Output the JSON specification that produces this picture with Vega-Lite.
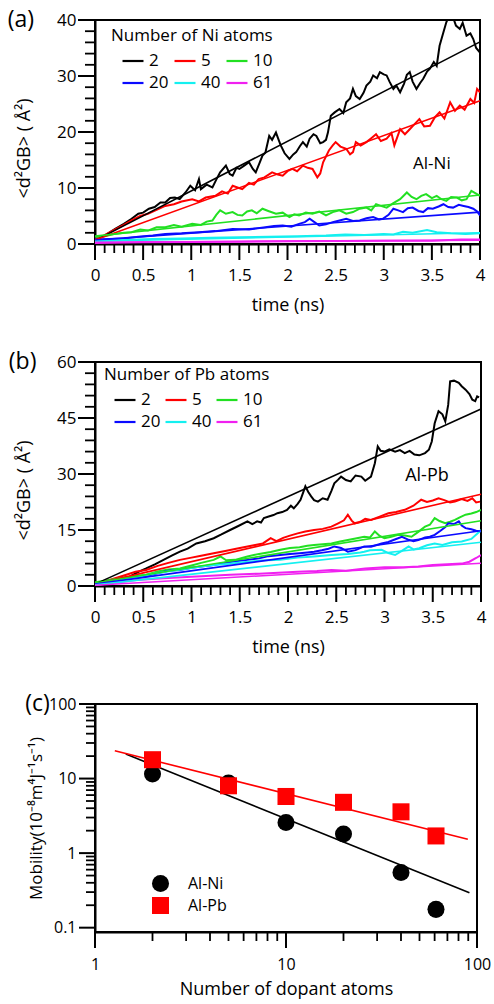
{
  "$schema": "https://vega.github.io/schema/vega-lite/v6.json",
  "padding": {"left": 6, "top": 8, "right": 4, "bottom": 0},
  "spacing": 35,
  "resolve": {
    "scale": {"color": "independent", "shape": "independent", "x": "independent", "y": "independent"},
    "legend": {"color": "independent", "shape": "independent"}
  },
  "config": {
    "font": "Open Sans",
    "view": {"stroke": "#000", "strokeWidth": 2},
    "axis": {
      "grid": false, "ticks": false, "tickSize": 0, "domainColor": "#000", "domainWidth": 2,
      "labelColor": "#000", "titleColor": "#000", "labelFont": "Open Sans", "titleFont": "Open Sans",
      "labelFontSize": 17, "titleFontSize": 18, "titleFontWeight": "normal",
      "labelFlush": false, "labelOverlap": false, "labelBound": false
    },
    "tick": {"opacity": 1, "color": "#000"},
    "legend": {
      "labelFont": "Open Sans", "titleFont": "Open Sans", "labelColor": "#000", "titleColor": "#000",
      "titleFontWeight": "normal", "padding": 0
    }
  },
  "datasets": {
    "xt_lin": [
      {"v":0,"k":"major"},{"v":0.1,"k":"minor"},{"v":0.2,"k":"minor"},{"v":0.3,"k":"minor"},{"v":0.4,"k":"minor"},{"v":0.5,"k":"major"},{"v":0.6,"k":"minor"},{"v":0.7,"k":"minor"},{"v":0.8,"k":"minor"},{"v":0.9,"k":"minor"},
      {"v":1,"k":"major"},{"v":1.1,"k":"minor"},{"v":1.2,"k":"minor"},{"v":1.3,"k":"minor"},{"v":1.4,"k":"minor"},{"v":1.5,"k":"major"},{"v":1.6,"k":"minor"},{"v":1.7,"k":"minor"},{"v":1.8,"k":"minor"},{"v":1.9,"k":"minor"},
      {"v":2,"k":"major"},{"v":2.1,"k":"minor"},{"v":2.2,"k":"minor"},{"v":2.3,"k":"minor"},{"v":2.4,"k":"minor"},{"v":2.5,"k":"major"},{"v":2.6,"k":"minor"},{"v":2.7,"k":"minor"},{"v":2.8,"k":"minor"},{"v":2.9,"k":"minor"},
      {"v":3,"k":"major"},{"v":3.1,"k":"minor"},{"v":3.2,"k":"minor"},{"v":3.3,"k":"minor"},{"v":3.4,"k":"minor"},{"v":3.5,"k":"major"},{"v":3.6,"k":"minor"},{"v":3.7,"k":"minor"},{"v":3.8,"k":"minor"},{"v":3.9,"k":"minor"},
      {"v":4,"k":"major"}
    ],
    "yt_a": [
      {"v":0,"k":"major"},{"v":2,"k":"minor"},{"v":4,"k":"minor"},{"v":6,"k":"minor"},{"v":8,"k":"minor"},{"v":10,"k":"major"},{"v":12,"k":"minor"},{"v":14,"k":"minor"},{"v":16,"k":"minor"},{"v":18,"k":"minor"},
      {"v":20,"k":"major"},{"v":22,"k":"minor"},{"v":24,"k":"minor"},{"v":26,"k":"minor"},{"v":28,"k":"minor"},{"v":30,"k":"major"},{"v":32,"k":"minor"},{"v":34,"k":"minor"},{"v":36,"k":"minor"},{"v":38,"k":"minor"},{"v":40,"k":"major"}
    ],
    "yt_b": [
      {"v":0,"k":"major"},{"v":3,"k":"minor"},{"v":6,"k":"minor"},{"v":9,"k":"minor"},{"v":12,"k":"minor"},{"v":15,"k":"major"},{"v":18,"k":"minor"},{"v":21,"k":"minor"},{"v":24,"k":"minor"},{"v":27,"k":"minor"},
      {"v":30,"k":"major"},{"v":33,"k":"minor"},{"v":36,"k":"minor"},{"v":39,"k":"minor"},{"v":42,"k":"minor"},{"v":45,"k":"major"},{"v":48,"k":"minor"},{"v":51,"k":"minor"},{"v":54,"k":"minor"},{"v":57,"k":"minor"},{"v":60,"k":"major"}
    ],
    "xt_log": [
      {"v":1,"k":"major"},{"v":2,"k":"minor"},{"v":3,"k":"minor"},{"v":4,"k":"minor"},{"v":5,"k":"minor"},{"v":6,"k":"minor"},{"v":7,"k":"minor"},{"v":8,"k":"minor"},{"v":9,"k":"minor"},
      {"v":10,"k":"major"},{"v":20,"k":"minor"},{"v":30,"k":"minor"},{"v":40,"k":"minor"},{"v":50,"k":"minor"},{"v":60,"k":"minor"},{"v":70,"k":"minor"},{"v":80,"k":"minor"},{"v":90,"k":"minor"},{"v":100,"k":"major"}
    ],
    "yt_log": [
      {"v":0.1,"k":"major"},{"v":0.2,"k":"minor"},{"v":0.3,"k":"minor"},{"v":0.4,"k":"minor"},{"v":0.5,"k":"minor"},{"v":0.6,"k":"minor"},{"v":0.7,"k":"minor"},{"v":0.8,"k":"minor"},{"v":0.9,"k":"minor"},
      {"v":1,"k":"major"},{"v":2,"k":"minor"},{"v":3,"k":"minor"},{"v":4,"k":"minor"},{"v":5,"k":"minor"},{"v":6,"k":"minor"},{"v":7,"k":"minor"},{"v":8,"k":"minor"},{"v":9,"k":"minor"},
      {"v":10,"k":"major"},{"v":20,"k":"minor"},{"v":30,"k":"minor"},{"v":40,"k":"minor"},{"v":50,"k":"minor"},{"v":60,"k":"minor"},{"v":70,"k":"minor"},{"v":80,"k":"minor"},{"v":90,"k":"minor"},{"v":100,"k":"major"}
    ],
    "a_sim": [
      {"n":"2","t":0,"d":0.8},{"n":"2","t":0.1,"d":1.5},{"n":"2","t":0.21,"d":2.7},{"n":"2","t":0.3,"d":3.6},{"n":"2","t":0.38,"d":4.5},{"n":"2","t":0.45,"d":5.4},{"n":"2","t":0.5,"d":5.6},{"n":"2","t":0.56,"d":6.3},{"n":"2","t":0.62,"d":6.6},{"n":"2","t":0.68,"d":7.4},{"n":"2","t":0.73,"d":7.4},{"n":"2","t":0.78,"d":8.2},{"n":"2","t":0.83,"d":8.3},{"n":"2","t":0.88,"d":8.0},{"n":"2","t":0.94,"d":9.2},{"n":"2","t":0.99,"d":10.4},{"n":"2","t":1.04,"d":9.6},{"n":"2","t":1.08,"d":11.6},{"n":"2","t":1.1,"d":9.8},{"n":"2","t":1.16,"d":10.6},{"n":"2","t":1.22,"d":10.1},{"n":"2","t":1.26,"d":11.5},{"n":"2","t":1.3,"d":12.8},{"n":"2","t":1.36,"d":14.0},{"n":"2","t":1.4,"d":12.5},{"n":"2","t":1.43,"d":12.2},{"n":"2","t":1.47,"d":13.6},{"n":"2","t":1.5,"d":13.4},{"n":"2","t":1.55,"d":14.0},{"n":"2","t":1.6,"d":14.6},{"n":"2","t":1.64,"d":13.4},{"n":"2","t":1.67,"d":12.8},{"n":"2","t":1.71,"d":14.5},{"n":"2","t":1.74,"d":15.8},{"n":"2","t":1.77,"d":16.3},{"n":"2","t":1.81,"d":19.3},{"n":"2","t":1.84,"d":18.6},{"n":"2","t":1.88,"d":19.9},{"n":"2","t":1.91,"d":18.5},{"n":"2","t":1.93,"d":17.6},{"n":"2","t":1.97,"d":16.2},{"n":"2","t":2.02,"d":15.2},{"n":"2","t":2.06,"d":16.0},{"n":"2","t":2.09,"d":16.4},{"n":"2","t":2.13,"d":17.5},{"n":"2","t":2.16,"d":18.2},{"n":"2","t":2.2,"d":17.4},{"n":"2","t":2.23,"d":18.8},{"n":"2","t":2.27,"d":19.6},{"n":"2","t":2.3,"d":19.3},{"n":"2","t":2.34,"d":18.0},{"n":"2","t":2.37,"d":18.2},{"n":"2","t":2.4,"d":18.6},{"n":"2","t":2.42,"d":19.9},{"n":"2","t":2.45,"d":22.9},{"n":"2","t":2.49,"d":23.5},{"n":"2","t":2.54,"d":24.1},{"n":"2","t":2.58,"d":23.4},{"n":"2","t":2.61,"d":25.3},{"n":"2","t":2.65,"d":26.0},{"n":"2","t":2.68,"d":27.7},{"n":"2","t":2.71,"d":26.4},{"n":"2","t":2.75,"d":25.9},{"n":"2","t":2.79,"d":27.0},{"n":"2","t":2.82,"d":28.3},{"n":"2","t":2.86,"d":29.0},{"n":"2","t":2.89,"d":30.1},{"n":"2","t":2.93,"d":29.6},{"n":"2","t":2.96,"d":30.7},{"n":"2","t":3.0,"d":30.3},{"n":"2","t":3.03,"d":30.1},{"n":"2","t":3.06,"d":29.0},{"n":"2","t":3.1,"d":27.7},{"n":"2","t":3.13,"d":28.3},{"n":"2","t":3.17,"d":27.1},{"n":"2","t":3.21,"d":28.6},{"n":"2","t":3.24,"d":30.2},{"n":"2","t":3.27,"d":30.7},{"n":"2","t":3.3,"d":29.0},{"n":"2","t":3.34,"d":27.7},{"n":"2","t":3.38,"d":28.8},{"n":"2","t":3.41,"d":29.5},{"n":"2","t":3.45,"d":30.8},{"n":"2","t":3.48,"d":31.3},{"n":"2","t":3.52,"d":32.5},{"n":"2","t":3.55,"d":31.8},{"n":"2","t":3.58,"d":35.4},{"n":"2","t":3.62,"d":37.8},{"n":"2","t":3.65,"d":39.6},{"n":"2","t":3.68,"d":40.8},{"n":"2","t":3.72,"d":40.5},{"n":"2","t":3.75,"d":39.0},{"n":"2","t":3.79,"d":38.4},{"n":"2","t":3.82,"d":39.5},{"n":"2","t":3.86,"d":37.2},{"n":"2","t":3.9,"d":37.6},{"n":"2","t":3.93,"d":36.6},{"n":"2","t":3.96,"d":35.0},{"n":"2","t":4.0,"d":34.2},
      {"n":"5","t":0,"d":0.8},{"n":"5","t":0.1,"d":1.6},{"n":"5","t":0.2,"d":2.5},{"n":"5","t":0.3,"d":3.4},{"n":"5","t":0.38,"d":4.2},{"n":"5","t":0.47,"d":5.0},{"n":"5","t":0.55,"d":5.4},{"n":"5","t":0.64,"d":6.1},{"n":"5","t":0.73,"d":6.8},{"n":"5","t":0.82,"d":7.1},{"n":"5","t":0.9,"d":7.6},{"n":"5","t":1.01,"d":8.0},{"n":"5","t":1.08,"d":7.6},{"n":"5","t":1.15,"d":8.3},{"n":"5","t":1.25,"d":8.6},{"n":"5","t":1.32,"d":9.4},{"n":"5","t":1.38,"d":9.0},{"n":"5","t":1.43,"d":10.4},{"n":"5","t":1.48,"d":10.1},{"n":"5","t":1.53,"d":9.8},{"n":"5","t":1.6,"d":10.9},{"n":"5","t":1.65,"d":10.6},{"n":"5","t":1.7,"d":11.6},{"n":"5","t":1.76,"d":11.9},{"n":"5","t":1.84,"d":12.8},{"n":"5","t":1.9,"d":12.4},{"n":"5","t":1.95,"d":12.2},{"n":"5","t":2.0,"d":13.0},{"n":"5","t":2.05,"d":13.4},{"n":"5","t":2.1,"d":13.0},{"n":"5","t":2.16,"d":14.0},{"n":"5","t":2.21,"d":13.6},{"n":"5","t":2.26,"d":13.4},{"n":"5","t":2.31,"d":11.9},{"n":"5","t":2.34,"d":12.6},{"n":"5","t":2.37,"d":14.6},{"n":"5","t":2.43,"d":16.7},{"n":"5","t":2.47,"d":17.6},{"n":"5","t":2.5,"d":18.2},{"n":"5","t":2.55,"d":17.4},{"n":"5","t":2.61,"d":17.0},{"n":"5","t":2.65,"d":16.0},{"n":"5","t":2.68,"d":16.4},{"n":"5","t":2.71,"d":18.2},{"n":"5","t":2.76,"d":17.6},{"n":"5","t":2.82,"d":18.2},{"n":"5","t":2.87,"d":18.9},{"n":"5","t":2.92,"d":19.6},{"n":"5","t":2.97,"d":18.4},{"n":"5","t":3.03,"d":18.8},{"n":"5","t":3.08,"d":19.8},{"n":"5","t":3.11,"d":17.6},{"n":"5","t":3.17,"d":20.5},{"n":"5","t":3.22,"d":19.6},{"n":"5","t":3.27,"d":20.5},{"n":"5","t":3.32,"d":21.4},{"n":"5","t":3.37,"d":22.3},{"n":"5","t":3.42,"d":21.0},{"n":"5","t":3.48,"d":21.1},{"n":"5","t":3.53,"d":22.6},{"n":"5","t":3.58,"d":23.5},{"n":"5","t":3.63,"d":22.4},{"n":"5","t":3.69,"d":25.3},{"n":"5","t":3.74,"d":23.8},{"n":"5","t":3.79,"d":24.7},{"n":"5","t":3.84,"d":24.0},{"n":"5","t":3.9,"d":25.9},{"n":"5","t":3.94,"d":25.2},{"n":"5","t":3.97,"d":27.7},{"n":"5","t":4.0,"d":27.1},
      {"n":"10","t":0,"d":1.3},{"n":"10","t":0.1,"d":1.4},{"n":"10","t":0.2,"d":1.8},{"n":"10","t":0.3,"d":2.0},{"n":"10","t":0.38,"d":2.1},{"n":"10","t":0.47,"d":2.6},{"n":"10","t":0.55,"d":2.4},{"n":"10","t":0.64,"d":3.0},{"n":"10","t":0.73,"d":3.0},{"n":"10","t":0.82,"d":3.4},{"n":"10","t":0.9,"d":3.1},{"n":"10","t":1.01,"d":3.6},{"n":"10","t":1.1,"d":3.4},{"n":"10","t":1.16,"d":4.0},{"n":"10","t":1.22,"d":4.2},{"n":"10","t":1.26,"d":5.2},{"n":"10","t":1.3,"d":6.0},{"n":"10","t":1.36,"d":5.4},{"n":"10","t":1.43,"d":5.7},{"n":"10","t":1.48,"d":5.2},{"n":"10","t":1.53,"d":5.1},{"n":"10","t":1.58,"d":5.8},{"n":"10","t":1.63,"d":6.0},{"n":"10","t":1.68,"d":5.5},{"n":"10","t":1.74,"d":6.3},{"n":"10","t":1.8,"d":5.9},{"n":"10","t":1.88,"d":5.4},{"n":"10","t":1.95,"d":5.6},{"n":"10","t":2.02,"d":4.8},{"n":"10","t":2.07,"d":5.3},{"n":"10","t":2.12,"d":5.1},{"n":"10","t":2.19,"d":5.6},{"n":"10","t":2.26,"d":5.4},{"n":"10","t":2.33,"d":5.8},{"n":"10","t":2.4,"d":5.1},{"n":"10","t":2.47,"d":5.7},{"n":"10","t":2.54,"d":6.0},{"n":"10","t":2.61,"d":5.4},{"n":"10","t":2.68,"d":5.7},{"n":"10","t":2.75,"d":6.3},{"n":"10","t":2.82,"d":6.5},{"n":"10","t":2.87,"d":6.0},{"n":"10","t":2.92,"d":7.1},{"n":"10","t":2.97,"d":6.8},{"n":"10","t":3.03,"d":6.5},{"n":"10","t":3.1,"d":7.3},{"n":"10","t":3.17,"d":8.0},{"n":"10","t":3.24,"d":9.2},{"n":"10","t":3.29,"d":8.4},{"n":"10","t":3.34,"d":8.0},{"n":"10","t":3.39,"d":8.6},{"n":"10","t":3.44,"d":8.9},{"n":"10","t":3.5,"d":8.2},{"n":"10","t":3.55,"d":8.6},{"n":"10","t":3.6,"d":8.0},{"n":"10","t":3.65,"d":7.7},{"n":"10","t":3.7,"d":8.4},{"n":"10","t":3.76,"d":8.3},{"n":"10","t":3.81,"d":7.8},{"n":"10","t":3.86,"d":8.0},{"n":"10","t":3.91,"d":9.5},{"n":"10","t":3.96,"d":9.0},{"n":"10","t":4.0,"d":8.6},
      {"n":"20","t":0,"d":0.8},{"n":"20","t":0.15,"d":0.9},{"n":"20","t":0.3,"d":1.0},{"n":"20","t":0.45,"d":1.3},{"n":"20","t":0.6,"d":1.5},{"n":"20","t":0.73,"d":1.8},{"n":"20","t":0.9,"d":1.9},{"n":"20","t":1.08,"d":2.1},{"n":"20","t":1.25,"d":2.3},{"n":"20","t":1.43,"d":2.7},{"n":"20","t":1.6,"d":2.6},{"n":"20","t":1.77,"d":3.0},{"n":"20","t":1.86,"d":3.2},{"n":"20","t":1.95,"d":3.3},{"n":"20","t":2.04,"d":3.1},{"n":"20","t":2.12,"d":3.6},{"n":"20","t":2.18,"d":3.9},{"n":"20","t":2.23,"d":4.5},{"n":"20","t":2.28,"d":3.9},{"n":"20","t":2.33,"d":3.3},{"n":"20","t":2.4,"d":3.5},{"n":"20","t":2.47,"d":3.9},{"n":"20","t":2.54,"d":4.2},{"n":"20","t":2.61,"d":4.5},{"n":"20","t":2.68,"d":4.1},{"n":"20","t":2.75,"d":4.2},{"n":"20","t":2.82,"d":4.6},{"n":"20","t":2.89,"d":4.8},{"n":"20","t":2.95,"d":4.4},{"n":"20","t":2.99,"d":4.5},{"n":"20","t":3.05,"d":5.2},{"n":"20","t":3.1,"d":6.3},{"n":"20","t":3.15,"d":6.0},{"n":"20","t":3.2,"d":5.7},{"n":"20","t":3.25,"d":6.4},{"n":"20","t":3.3,"d":6.5},{"n":"20","t":3.36,"d":5.9},{"n":"20","t":3.41,"d":5.7},{"n":"20","t":3.46,"d":6.4},{"n":"20","t":3.51,"d":6.3},{"n":"20","t":3.57,"d":6.7},{"n":"20","t":3.62,"d":7.1},{"n":"20","t":3.67,"d":6.6},{"n":"20","t":3.72,"d":6.5},{"n":"20","t":3.78,"d":7.0},{"n":"20","t":3.83,"d":6.8},{"n":"20","t":3.88,"d":6.6},{"n":"20","t":3.93,"d":6.3},{"n":"20","t":3.97,"d":5.8},{"n":"20","t":4.0,"d":5.1},
      {"n":"40","t":0,"d":0.5},{"n":"40","t":0.3,"d":0.7},{"n":"40","t":0.6,"d":0.9},{"n":"40","t":0.9,"d":1.0},{"n":"40","t":1.2,"d":1.1},{"n":"40","t":1.5,"d":1.2},{"n":"40","t":1.8,"d":1.3},{"n":"40","t":2.1,"d":1.4},{"n":"40","t":2.4,"d":1.5},{"n":"40","t":2.6,"d":1.7},{"n":"40","t":2.8,"d":1.6},{"n":"40","t":3.0,"d":1.8},{"n":"40","t":3.1,"d":1.7},{"n":"40","t":3.2,"d":2.2},{"n":"40","t":3.3,"d":2.0},{"n":"40","t":3.45,"d":2.5},{"n":"40","t":3.55,"d":2.1},{"n":"40","t":3.7,"d":1.9},{"n":"40","t":3.85,"d":1.8},{"n":"40","t":4.0,"d":1.9},
      {"n":"61","t":0,"d":0.2},{"n":"61","t":0.5,"d":0.3},{"n":"61","t":1.0,"d":0.35},{"n":"61","t":1.5,"d":0.4},{"n":"61","t":2.0,"d":0.5},{"n":"61","t":2.5,"d":0.55},{"n":"61","t":3.0,"d":0.6},{"n":"61","t":3.5,"d":0.6},{"n":"61","t":3.8,"d":0.8},{"n":"61","t":4.0,"d":0.8}
    ],
    "a_fit": [
      {"n":"2","t":0,"d":0.6},{"n":"2","t":4,"d":36.1},
      {"n":"5","t":0,"d":0.7},{"n":"5","t":4,"d":25.6},
      {"n":"10","t":0,"d":1.4},{"n":"10","t":4,"d":8.75},
      {"n":"20","t":0,"d":0.7},{"n":"20","t":4,"d":5.7},
      {"n":"40","t":0,"d":0.5},{"n":"40","t":4,"d":2.0},
      {"n":"61","t":0,"d":0.3},{"n":"61","t":4,"d":0.7}
    ],
    "b_sim": [
      {"n":"2","t":0,"d":0.5},{"n":"2","t":0.1,"d":1.0},{"n":"2","t":0.2,"d":1.6},{"n":"2","t":0.36,"d":2.5},{"n":"2","t":0.45,"d":3.8},{"n":"2","t":0.53,"d":4.7},{"n":"2","t":0.62,"d":5.8},{"n":"2","t":0.71,"d":7.0},{"n":"2","t":0.8,"d":8.2},{"n":"2","t":0.88,"d":9.2},{"n":"2","t":0.96,"d":10.0},{"n":"2","t":1.05,"d":11.4},{"n":"2","t":1.14,"d":12.0},{"n":"2","t":1.23,"d":12.8},{"n":"2","t":1.31,"d":13.8},{"n":"2","t":1.4,"d":15.0},{"n":"2","t":1.48,"d":16.0},{"n":"2","t":1.58,"d":17.3},{"n":"2","t":1.63,"d":16.6},{"n":"2","t":1.68,"d":17.3},{"n":"2","t":1.72,"d":17.0},{"n":"2","t":1.75,"d":18.2},{"n":"2","t":1.8,"d":18.6},{"n":"2","t":1.85,"d":19.0},{"n":"2","t":1.89,"d":19.5},{"n":"2","t":1.94,"d":19.8},{"n":"2","t":1.99,"d":20.4},{"n":"2","t":2.03,"d":21.5},{"n":"2","t":2.06,"d":20.8},{"n":"2","t":2.1,"d":22.0},{"n":"2","t":2.13,"d":23.1},{"n":"2","t":2.18,"d":26.7},{"n":"2","t":2.21,"d":25.2},{"n":"2","t":2.24,"d":24.0},{"n":"2","t":2.27,"d":23.0},{"n":"2","t":2.31,"d":22.6},{"n":"2","t":2.36,"d":23.5},{"n":"2","t":2.41,"d":23.1},{"n":"2","t":2.45,"d":25.5},{"n":"2","t":2.48,"d":27.5},{"n":"2","t":2.52,"d":28.5},{"n":"2","t":2.55,"d":29.3},{"n":"2","t":2.6,"d":28.4},{"n":"2","t":2.65,"d":28.0},{"n":"2","t":2.7,"d":29.6},{"n":"2","t":2.76,"d":29.3},{"n":"2","t":2.8,"d":28.2},{"n":"2","t":2.86,"d":29.3},{"n":"2","t":2.9,"d":32.9},{"n":"2","t":2.93,"d":37.4},{"n":"2","t":2.96,"d":36.2},{"n":"2","t":3.0,"d":36.0},{"n":"2","t":3.05,"d":36.6},{"n":"2","t":3.11,"d":36.0},{"n":"2","t":3.16,"d":36.4},{"n":"2","t":3.21,"d":35.6},{"n":"2","t":3.26,"d":36.2},{"n":"2","t":3.31,"d":35.2},{"n":"2","t":3.36,"d":35.0},{"n":"2","t":3.42,"d":35.6},{"n":"2","t":3.46,"d":36.5},{"n":"2","t":3.49,"d":38.7},{"n":"2","t":3.52,"d":43.6},{"n":"2","t":3.56,"d":46.8},{"n":"2","t":3.6,"d":46.0},{"n":"2","t":3.63,"d":44.1},{"n":"2","t":3.66,"d":48.5},{"n":"2","t":3.68,"d":54.8},{"n":"2","t":3.72,"d":55.0},{"n":"2","t":3.77,"d":54.4},{"n":"2","t":3.8,"d":53.5},{"n":"2","t":3.84,"d":52.6},{"n":"2","t":3.88,"d":51.4},{"n":"2","t":3.91,"d":49.9},{"n":"2","t":3.94,"d":49.5},{"n":"2","t":3.96,"d":50.8},{"n":"2","t":3.98,"d":50.5},
      {"n":"5","t":0,"d":0.5},{"n":"5","t":0.15,"d":1.6},{"n":"5","t":0.3,"d":2.8},{"n":"5","t":0.42,"d":3.8},{"n":"5","t":0.53,"d":4.3},{"n":"5","t":0.65,"d":5.4},{"n":"5","t":0.76,"d":6.2},{"n":"5","t":0.88,"d":7.0},{"n":"5","t":1.0,"d":7.6},{"n":"5","t":1.1,"d":8.1},{"n":"5","t":1.23,"d":8.8},{"n":"5","t":1.35,"d":9.4},{"n":"5","t":1.45,"d":9.9},{"n":"5","t":1.58,"d":10.6},{"n":"5","t":1.66,"d":11.0},{"n":"5","t":1.74,"d":11.4},{"n":"5","t":1.82,"d":12.8},{"n":"5","t":1.88,"d":12.0},{"n":"5","t":1.95,"d":12.9},{"n":"5","t":2.02,"d":13.5},{"n":"5","t":2.1,"d":14.1},{"n":"5","t":2.18,"d":14.6},{"n":"5","t":2.27,"d":15.0},{"n":"5","t":2.36,"d":15.3},{"n":"5","t":2.45,"d":15.9},{"n":"5","t":2.52,"d":16.8},{"n":"5","t":2.58,"d":17.6},{"n":"5","t":2.62,"d":19.1},{"n":"5","t":2.66,"d":17.5},{"n":"5","t":2.69,"d":16.8},{"n":"5","t":2.75,"d":17.2},{"n":"5","t":2.8,"d":18.0},{"n":"5","t":2.86,"d":17.7},{"n":"5","t":2.95,"d":18.6},{"n":"5","t":3.04,"d":19.5},{"n":"5","t":3.12,"d":19.8},{"n":"5","t":3.21,"d":20.4},{"n":"5","t":3.3,"d":21.5},{"n":"5","t":3.38,"d":23.1},{"n":"5","t":3.44,"d":22.5},{"n":"5","t":3.5,"d":22.9},{"n":"5","t":3.56,"d":23.5},{"n":"5","t":3.62,"d":23.0},{"n":"5","t":3.68,"d":22.4},{"n":"5","t":3.73,"d":22.6},{"n":"5","t":3.8,"d":23.3},{"n":"5","t":3.86,"d":22.8},{"n":"5","t":3.91,"d":23.5},{"n":"5","t":3.95,"d":22.4},{"n":"5","t":3.99,"d":22.6},
      {"n":"10","t":0,"d":1.0},{"n":"10","t":0.15,"d":1.6},{"n":"10","t":0.3,"d":2.2},{"n":"10","t":0.42,"d":2.7},{"n":"10","t":0.53,"d":3.0},{"n":"10","t":0.65,"d":3.9},{"n":"10","t":0.76,"d":4.4},{"n":"10","t":0.88,"d":4.7},{"n":"10","t":1.0,"d":5.5},{"n":"10","t":1.1,"d":6.2},{"n":"10","t":1.23,"d":7.0},{"n":"10","t":1.3,"d":7.9},{"n":"10","t":1.36,"d":6.9},{"n":"10","t":1.45,"d":7.0},{"n":"10","t":1.58,"d":7.9},{"n":"10","t":1.7,"d":8.6},{"n":"10","t":1.82,"d":9.1},{"n":"10","t":1.92,"d":9.7},{"n":"10","t":2.02,"d":10.2},{"n":"10","t":2.12,"d":10.4},{"n":"10","t":2.2,"d":10.8},{"n":"10","t":2.27,"d":11.0},{"n":"10","t":2.36,"d":11.2},{"n":"10","t":2.45,"d":11.4},{"n":"10","t":2.54,"d":11.9},{"n":"10","t":2.62,"d":12.3},{"n":"10","t":2.7,"d":12.7},{"n":"10","t":2.79,"d":13.2},{"n":"10","t":2.85,"d":13.0},{"n":"10","t":2.9,"d":14.6},{"n":"10","t":2.95,"d":13.4},{"n":"10","t":3.0,"d":12.8},{"n":"10","t":3.07,"d":13.2},{"n":"10","t":3.14,"d":13.7},{"n":"10","t":3.21,"d":13.5},{"n":"10","t":3.28,"d":13.2},{"n":"10","t":3.35,"d":14.5},{"n":"10","t":3.42,"d":15.9},{"n":"10","t":3.47,"d":16.4},{"n":"10","t":3.52,"d":18.2},{"n":"10","t":3.57,"d":17.4},{"n":"10","t":3.63,"d":16.8},{"n":"10","t":3.68,"d":17.2},{"n":"10","t":3.73,"d":17.7},{"n":"10","t":3.78,"d":18.4},{"n":"10","t":3.84,"d":19.1},{"n":"10","t":3.9,"d":19.4},{"n":"10","t":3.95,"d":19.8},{"n":"10","t":4.0,"d":20.4},
      {"n":"20","t":0,"d":0.5},{"n":"20","t":0.15,"d":1.3},{"n":"20","t":0.3,"d":2.0},{"n":"20","t":0.42,"d":2.4},{"n":"20","t":0.53,"d":2.7},{"n":"20","t":0.65,"d":3.4},{"n":"20","t":0.76,"d":4.1},{"n":"20","t":0.88,"d":4.3},{"n":"20","t":1.0,"d":4.9},{"n":"20","t":1.12,"d":5.3},{"n":"20","t":1.23,"d":5.6},{"n":"20","t":1.35,"d":6.2},{"n":"20","t":1.46,"d":6.6},{"n":"20","t":1.58,"d":7.0},{"n":"20","t":1.7,"d":7.4},{"n":"20","t":1.8,"d":8.0},{"n":"20","t":1.92,"d":8.3},{"n":"20","t":2.02,"d":8.6},{"n":"20","t":2.12,"d":8.8},{"n":"20","t":2.2,"d":9.0},{"n":"20","t":2.27,"d":9.2},{"n":"20","t":2.35,"d":9.6},{"n":"20","t":2.42,"d":10.0},{"n":"20","t":2.48,"d":10.6},{"n":"20","t":2.55,"d":10.2},{"n":"20","t":2.62,"d":9.2},{"n":"20","t":2.7,"d":9.6},{"n":"20","t":2.79,"d":10.6},{"n":"20","t":2.86,"d":10.5},{"n":"20","t":2.92,"d":11.0},{"n":"20","t":2.97,"d":11.4},{"n":"20","t":3.04,"d":11.8},{"n":"20","t":3.1,"d":12.4},{"n":"20","t":3.18,"d":13.2},{"n":"20","t":3.24,"d":12.5},{"n":"20","t":3.3,"d":12.0},{"n":"20","t":3.35,"d":12.3},{"n":"20","t":3.42,"d":13.0},{"n":"20","t":3.47,"d":13.2},{"n":"20","t":3.52,"d":13.7},{"n":"20","t":3.58,"d":14.8},{"n":"20","t":3.63,"d":15.8},{"n":"20","t":3.66,"d":16.8},{"n":"20","t":3.72,"d":16.6},{"n":"20","t":3.77,"d":17.3},{"n":"20","t":3.8,"d":16.2},{"n":"20","t":3.84,"d":15.5},{"n":"20","t":3.9,"d":15.2},{"n":"20","t":3.95,"d":14.8},{"n":"20","t":4.0,"d":14.6},
      {"n":"40","t":0,"d":0.3},{"n":"40","t":0.15,"d":1.1},{"n":"40","t":0.3,"d":1.9},{"n":"40","t":0.45,"d":2.5},{"n":"40","t":0.6,"d":3.3},{"n":"40","t":0.8,"d":4.1},{"n":"40","t":0.95,"d":4.6},{"n":"40","t":1.1,"d":5.2},{"n":"40","t":1.23,"d":5.6},{"n":"40","t":1.37,"d":5.9},{"n":"40","t":1.5,"d":6.3},{"n":"40","t":1.6,"d":6.5},{"n":"40","t":1.72,"d":6.8},{"n":"40","t":1.92,"d":7.0},{"n":"40","t":2.1,"d":7.6},{"n":"40","t":2.27,"d":7.9},{"n":"40","t":2.45,"d":8.3},{"n":"40","t":2.62,"d":8.6},{"n":"40","t":2.75,"d":9.0},{"n":"40","t":2.79,"d":9.2},{"n":"40","t":2.85,"d":9.6},{"n":"40","t":2.97,"d":9.7},{"n":"40","t":3.04,"d":8.8},{"n":"40","t":3.11,"d":8.3},{"n":"40","t":3.18,"d":9.4},{"n":"40","t":3.25,"d":10.6},{"n":"40","t":3.3,"d":9.8},{"n":"40","t":3.36,"d":10.1},{"n":"40","t":3.44,"d":10.9},{"n":"40","t":3.52,"d":11.4},{"n":"40","t":3.6,"d":11.0},{"n":"40","t":3.7,"d":11.7},{"n":"40","t":3.8,"d":11.9},{"n":"40","t":3.9,"d":12.6},{"n":"40","t":3.96,"d":14.0},{"n":"40","t":4.0,"d":15.0},
      {"n":"61","t":0,"d":0.2},{"n":"61","t":0.2,"d":0.9},{"n":"61","t":0.43,"d":1.6},{"n":"61","t":0.71,"d":2.1},{"n":"61","t":1.0,"d":2.5},{"n":"61","t":1.4,"d":3.0},{"n":"61","t":1.7,"d":3.3},{"n":"61","t":2.0,"d":3.7},{"n":"61","t":2.1,"d":3.8},{"n":"61","t":2.3,"d":4.0},{"n":"61","t":2.45,"d":4.3},{"n":"61","t":2.6,"d":4.1},{"n":"61","t":2.8,"d":4.7},{"n":"61","t":3.0,"d":5.0},{"n":"61","t":3.2,"d":5.0},{"n":"61","t":3.35,"d":5.2},{"n":"61","t":3.5,"d":5.6},{"n":"61","t":3.65,"d":5.8},{"n":"61","t":3.8,"d":6.0},{"n":"61","t":3.88,"d":6.5},{"n":"61","t":3.95,"d":7.5},{"n":"61","t":4.0,"d":8.3}
    ],
    "b_fit": [
      {"n":"2","t":0,"d":0.5},{"n":"2","t":4,"d":47.4},
      {"n":"5","t":0,"d":0.5},{"n":"5","t":4,"d":24.6},
      {"n":"10","t":0,"d":0.8},{"n":"10","t":4,"d":17.5},
      {"n":"20","t":0,"d":0.5},{"n":"20","t":4,"d":14.8},
      {"n":"40","t":0,"d":0.3},{"n":"40","t":4,"d":11.7},
      {"n":"61","t":0,"d":0.2},{"n":"61","t":4,"d":6.1}
    ],
    "c_pts": [
      {"sys":"Al-Ni","n":2,"m":11.5},{"sys":"Al-Ni","n":5,"m":8.7},{"sys":"Al-Ni","n":10,"m":2.57},{"sys":"Al-Ni","n":20,"m":1.8},{"sys":"Al-Ni","n":40,"m":0.55},{"sys":"Al-Ni","n":61,"m":0.176},
      {"sys":"Al-Pb","n":2,"m":17.9},{"sys":"Al-Pb","n":5,"m":8.0},{"sys":"Al-Pb","n":10,"m":5.75},{"sys":"Al-Pb","n":20,"m":4.8},{"sys":"Al-Pb","n":40,"m":3.58},{"sys":"Al-Pb","n":61,"m":1.7}
    ],
    "c_fit": [
      {"sys":"Al-Ni","n":1.45,"m":21.3},{"sys":"Al-Ni","n":91.3,"m":0.295},
      {"sys":"Al-Pb","n":1.27,"m":23.6},{"sys":"Al-Pb","n":89.5,"m":1.53}
    ]
  },
  "vconcat": [
    {
      "width": 385, "height": 224,
      "resolve": {"axis": {"x": "independent", "y": "independent"}},
      "layer": [
        {
          "data": {"name": "a_sim"},
          "mark": {"type": "line", "strokeWidth": 2, "clip": true},
          "encoding": {
            "x": {"field": "t", "type": "quantitative", "scale": {"domain": [0, 4], "nice": false},
              "axis": {"orient": "bottom", "title": "time (ns)", "format": "~g", "values": [0,0.5,1,1.5,2,2.5,3,3.5,4],
                "labelPadding": 23, "titlePadding": 13}},
            "y": {"field": "d", "type": "quantitative", "scale": {"domain": [0, 40], "nice": false},
              "axis": {"orient": "left", "title": "<d²GB> ( Å²)", "values": [0,10,20,30,40],
                "labelPadding": 19, "titleX": -62, "titleY": 128}},
            "color": {"field": "n", "type": "ordinal",
              "scale": {"domain": ["2","5","10","20","40","61"], "range": ["#000000","#ff0000","#22e022","#0a0aff","#14f0f0","#f020f0"]},
              "legend": {"title": "Number of Ni atoms", "orient": "none", "legendX": 16, "legendY": 8,
                "columns": 3, "direction": "horizontal", "gridAlign": "none", "symbolType": "stroke", "symbolStrokeWidth": 2.2, "symbolSize": 440,
                "symbolOffset": 10, "labelFontSize": 17, "titleFontSize": 17, "labelOffset": 4, "columnPadding": -6,
                "rowPadding": 2, "titlePadding": 4}}
          }
        },
        {
          "data": {"name": "a_fit"},
          "mark": {"type": "line", "strokeWidth": 1.6},
          "encoding": {
            "x": {"field": "t", "type": "quantitative", "axis": null},
            "y": {"field": "d", "type": "quantitative", "axis": null},
            "color": {"field": "n", "type": "ordinal"}
          }
        },
        {
          "data": {"name": "xt_lin"},
          "transform": [{"filter": "datum.k === 'major'"}],
          "mark": {"type": "tick", "orient": "vertical", "size": 15, "thickness": 2, "yOffset": 8.5, "clip": false},
          "encoding": {"x": {"field": "v", "type": "quantitative", "axis": null}, "y": {"datum": 0, "axis": null}}
        },
        {
          "data": {"name": "xt_lin"},
          "transform": [{"filter": "datum.k === 'minor'"}],
          "mark": {"type": "tick", "orient": "vertical", "size": 8, "thickness": 1.8, "yOffset": 5, "clip": false},
          "encoding": {"x": {"field": "v", "type": "quantitative", "axis": null}, "y": {"datum": 0, "axis": null}}
        },
        {
          "data": {"name": "yt_a"},
          "transform": [{"filter": "datum.k === 'major'"}],
          "mark": {"type": "tick", "orient": "horizontal", "size": 16, "thickness": 2, "xOffset": -9, "clip": false},
          "encoding": {"y": {"field": "v", "type": "quantitative", "axis": null}, "x": {"datum": 0, "axis": null}}
        },
        {
          "data": {"name": "yt_a"},
          "transform": [{"filter": "datum.k === 'minor'"}],
          "mark": {"type": "tick", "orient": "horizontal", "size": 9, "thickness": 1.8, "xOffset": -5.5, "clip": false},
          "encoding": {"y": {"field": "v", "type": "quantitative", "axis": null}, "x": {"datum": 0, "axis": null}}
        },
        {
          "data": {"values": [{"label": "Al-Ni"}]},
          "mark": {"type": "text", "fontSize": 17, "align": "center", "baseline": "middle", "color": "#000"},
          "encoding": {"x": {"datum": 3.5, "axis": null}, "y": {"datum": 14.3, "axis": null}, "text": {"field": "label"}}
        },
        {
          "data": {"values": [{"label": "(a)"}]},
          "mark": {"type": "text", "fontSize": 23, "align": "center", "baseline": "middle", "color": "#000", "clip": false},
          "encoding": {"x": {"datum": -0.77, "axis": null}, "y": {"datum": 40, "axis": null}, "text": {"field": "label"}}
        }
      ]
    },
    {
      "width": 386, "height": 224,
      "resolve": {"axis": {"x": "independent", "y": "independent"}},
      "layer": [
        {
          "data": {"name": "b_sim"},
          "mark": {"type": "line", "strokeWidth": 2, "clip": true},
          "encoding": {
            "x": {"field": "t", "type": "quantitative", "scale": {"domain": [0, 4], "nice": false},
              "axis": {"orient": "bottom", "title": "time (ns)", "format": "~g", "values": [0,0.5,1,1.5,2,2.5,3,3.5,4],
                "labelPadding": 23, "titlePadding": 13}},
            "y": {"field": "d", "type": "quantitative", "scale": {"domain": [0, 60], "nice": false},
              "axis": {"orient": "left", "title": "<d²GB> ( Å²)", "values": [0,15,30,45,60],
                "labelPadding": 19, "titleX": -62, "titleY": 128}},
            "color": {"field": "n", "type": "ordinal",
              "scale": {"domain": ["2","5","10","20","40","61"], "range": ["#000000","#ff0000","#22e022","#0a0aff","#14f0f0","#f020f0"]},
              "legend": {"title": "Number of Pb atoms", "orient": "none", "legendX": 9, "legendY": 5,
                "columns": 3, "direction": "horizontal", "gridAlign": "none", "symbolType": "stroke", "symbolStrokeWidth": 2.2, "symbolSize": 440,
                "symbolOffset": 9, "labelFontSize": 17, "titleFontSize": 17, "labelOffset": 4, "columnPadding": -6,
                "rowPadding": 2, "titlePadding": 4}}
          }
        },
        {
          "data": {"name": "b_fit"},
          "mark": {"type": "line", "strokeWidth": 1.6},
          "encoding": {
            "x": {"field": "t", "type": "quantitative", "axis": null},
            "y": {"field": "d", "type": "quantitative", "axis": null},
            "color": {"field": "n", "type": "ordinal"}
          }
        },
        {
          "data": {"name": "xt_lin"},
          "transform": [{"filter": "datum.k === 'major'"}],
          "mark": {"type": "tick", "orient": "vertical", "size": 15, "thickness": 2, "yOffset": 8.5, "clip": false},
          "encoding": {"x": {"field": "v", "type": "quantitative", "axis": null}, "y": {"datum": 0, "axis": null}}
        },
        {
          "data": {"name": "xt_lin"},
          "transform": [{"filter": "datum.k === 'minor'"}],
          "mark": {"type": "tick", "orient": "vertical", "size": 8, "thickness": 1.8, "yOffset": 5, "clip": false},
          "encoding": {"x": {"field": "v", "type": "quantitative", "axis": null}, "y": {"datum": 0, "axis": null}}
        },
        {
          "data": {"name": "yt_b"},
          "transform": [{"filter": "datum.k === 'major'"}],
          "mark": {"type": "tick", "orient": "horizontal", "size": 16, "thickness": 2, "xOffset": -9, "clip": false},
          "encoding": {"y": {"field": "v", "type": "quantitative", "axis": null}, "x": {"datum": 0, "axis": null}}
        },
        {
          "data": {"name": "yt_b"},
          "transform": [{"filter": "datum.k === 'minor'"}],
          "mark": {"type": "tick", "orient": "horizontal", "size": 9, "thickness": 1.8, "xOffset": -5.5, "clip": false},
          "encoding": {"y": {"field": "v", "type": "quantitative", "axis": null}, "x": {"datum": 0, "axis": null}}
        },
        {
          "data": {"values": [{"label": "Al-Pb"}]},
          "mark": {"type": "text", "fontSize": 18, "align": "center", "baseline": "middle", "color": "#000"},
          "encoding": {"x": {"datum": 3.44, "axis": null}, "y": {"datum": 29.5, "axis": null}, "text": {"field": "label"}}
        },
        {
          "data": {"values": [{"label": "(b)"}]},
          "mark": {"type": "text", "fontSize": 23, "align": "center", "baseline": "middle", "color": "#000", "clip": false},
          "encoding": {"x": {"datum": -0.75, "axis": null}, "y": {"datum": 60, "axis": null}, "text": {"field": "label"}}
        }
      ]
    },
    {
      "width": 382, "height": 228,
      "resolve": {"axis": {"x": "independent", "y": "independent"}},
      "layer": [
        {
          "data": {"name": "c_fit"},
          "transform": [{"filter": "datum.sys === 'Al-Ni'"}],
          "mark": {"type": "line", "strokeWidth": 1.6, "color": "#000"},
          "encoding": {
            "x": {"field": "n", "type": "quantitative", "scale": {"type": "log", "domain": [1, 100], "nice": false},
              "axis": {"orient": "bottom", "title": "Number of dopant atoms", "format": "~g", "values": [1,10,100],
                "labelFontSize": 16, "labelPadding": 24, "titlePadding": 8}},
            "y": {"field": "m", "type": "quantitative", "scale": {"type": "log", "domain": [0.0875, 100], "nice": false},
              "axis": {"orient": "left", "title": "Mobility(10⁻⁸m⁴J⁻¹s⁻¹)", "format": "~g", "values": [0.1,1,10,100],
                "labelFontSize": 16, "labelPadding": 19, "titleFontSize": 17, "titleX": -50}}
          }
        },
        {
          "data": {"name": "c_fit"},
          "transform": [{"filter": "datum.sys === 'Al-Pb'"}],
          "mark": {"type": "line", "strokeWidth": 1.6, "color": "#ff0000"},
          "encoding": {
            "x": {"field": "n", "type": "quantitative", "axis": null},
            "y": {"field": "m", "type": "quantitative", "axis": null}
          }
        },
        {
          "data": {"name": "xt_log"},
          "transform": [{"filter": "datum.k === 'major'"}],
          "mark": {"type": "tick", "orient": "vertical", "size": 15, "thickness": 2, "yOffset": 8.5, "clip": false},
          "encoding": {"x": {"field": "v", "type": "quantitative", "axis": null}, "y": {"datum": 0.0875, "axis": null}}
        },
        {
          "data": {"name": "xt_log"},
          "transform": [{"filter": "datum.k === 'minor'"}],
          "mark": {"type": "tick", "orient": "vertical", "size": 8, "thickness": 1.8, "yOffset": 5, "clip": false},
          "encoding": {"x": {"field": "v", "type": "quantitative", "axis": null}, "y": {"datum": 0.0875, "axis": null}}
        },
        {
          "data": {"name": "yt_log"},
          "transform": [{"filter": "datum.k === 'major'"}],
          "mark": {"type": "tick", "orient": "horizontal", "size": 15, "thickness": 2, "xOffset": -8.5, "clip": false},
          "encoding": {"y": {"field": "v", "type": "quantitative", "axis": null}, "x": {"datum": 1, "axis": null}}
        },
        {
          "data": {"name": "yt_log"},
          "transform": [{"filter": "datum.k === 'minor'"}],
          "mark": {"type": "tick", "orient": "horizontal", "size": 8, "thickness": 1.8, "xOffset": -5, "clip": false},
          "encoding": {"y": {"field": "v", "type": "quantitative", "axis": null}, "x": {"datum": 1, "axis": null}}
        },
        {
          "data": {"name": "c_pts"},
          "mark": {"type": "point", "filled": true, "size": 290, "opacity": 1},
          "encoding": {
            "x": {"field": "n", "type": "quantitative", "axis": null},
            "y": {"field": "m", "type": "quantitative", "axis": null},
            "color": {"field": "sys", "type": "nominal", "scale": {"domain": ["Al-Ni", "Al-Pb"], "range": ["#000000", "#ff0000"]},
              "legend": {"title": null, "orient": "none", "legendX": 56, "legendY": 170, "labelFontSize": 16,
                "labelOffset": 18, "rowPadding": -5, "symbolSize": 290, "symbolOpacity": 1}},
            "shape": {"field": "sys", "type": "nominal", "scale": {"domain": ["Al-Ni", "Al-Pb"], "range": ["circle", "square"]},
              "legend": {"title": null, "orient": "none", "legendX": 56, "legendY": 170, "labelFontSize": 16,
                "labelOffset": 18, "rowPadding": -5, "symbolSize": 290, "symbolOpacity": 1}}
          }
        },
        {
          "data": {"values": [{"label": "(c)"}]},
          "mark": {"type": "text", "fontSize": 23, "align": "center", "baseline": "middle", "color": "#000", "clip": false},
          "encoding": {"x": {"datum": 0.5, "axis": null}, "y": {"datum": 100, "axis": null}, "text": {"field": "label"}}
        }
      ]
    }
  ]
}
